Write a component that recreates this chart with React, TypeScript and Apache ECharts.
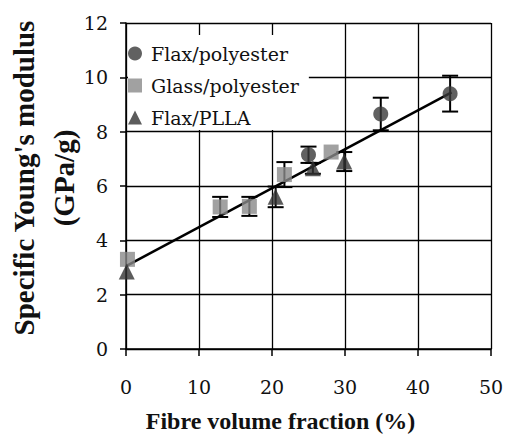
import React, { useEffect, useRef } from "react";
import * as echarts from "echarts";

// Flax/polyester (circles)
const flaxPolyX = [25.0, 34.9, 44.4];
const flaxPolyY = [7.15, 8.65, 9.4];
const flaxPolyErr = [0.3, 0.6, 0.66];

// Glass/polyester (squares)
const glassX = [0.2, 12.9, 16.9, 21.7, 28.1];
const glassY = [3.3, 5.23, 5.25, 6.42, 7.25];
const glassErr = [0, 0.37, 0.35, 0.46, 0];

// Flax/PLLA (triangles)
const pllaX = [0.1, 20.5, 25.6, 29.9];
const pllaY = [2.85, 5.6, 6.65, 6.9];
const pllaErr = [0, 0.38, 0.2, 0.35];

// Linear fit
const fitX = [0, 44.6];
const fitY = [3.05, 9.45];

const seriesNames = ["Flax/polyester", "Glass/polyester", "Flax/PLLA"];
const FONT = "DejaVu Serif";
const BOLDFONT = "Liberation Serif";

const zip = (xs: number[], ys: number[]) => xs.map((x, i) => [x, ys[i]]);
const zip3 = (xs: number[], ys: number[], es: number[]) => xs.map((x, i) => [x, ys[i], es[i]]);

const errorSeries = (name: string, data: number[][]) => ({
  type: "custom",
  name: name + "-err",
  data,
  encode: { x: 0, y: 1 },
  z: 2,
  silent: true,
  renderItem: (params: any, api: any) => {
    const x = api.value(0);
    const y = api.value(1);
    const e = api.value(2);
    if (!e) return { type: "group", children: [] };
    const top = api.coord([x, y + e]);
    const bot = api.coord([x, y - e]);
    const half = 8;
    const st = { stroke: "#000", lineWidth: 2 };
    return {
      type: "group",
      children: [
        { type: "line", shape: { x1: top[0], y1: top[1], x2: bot[0], y2: bot[1] }, style: st },
        { type: "line", shape: { x1: top[0] - half, y1: top[1], x2: top[0] + half, y2: top[1] }, style: st },
        { type: "line", shape: { x1: bot[0] - half, y1: bot[1], x2: bot[0] + half, y2: bot[1] }, style: st },
      ],
    };
  },
});

export default function App() {
  const ref = useRef<HTMLDivElement>(null);
  useEffect(() => {
    document.body.style.margin = "0";
    const chart = echarts.init(ref.current!, null, { renderer: "svg" });
    chart.setOption({
      animation: false,
      backgroundColor: "#fff",
      grid: { left: 126, right: 15, top: 23, bottom: 86, containLabel: false, outerBoundsMode: "none" },
      legend: {
        orient: "vertical",
        left: 128,
        top: 35,
        backgroundColor: "#fff",
        padding: [9, 10, 3, 0],
        itemGap: 13,
        itemWidth: 14,
        itemHeight: 14,
        selectedMode: false,
        data: [
          { name: seriesNames[0], icon: "circle" },
          { name: seriesNames[1], icon: "rect" },
          { name: seriesNames[2], icon: "triangle" },
        ],
        textStyle: { fontFamily: FONT, fontSize: 19, color: "#111", padding: [0, 0, 0, 4] },
      },
      xAxis: {
        type: "value",
        min: 0,
        max: 50,
        interval: 10,
        axisLine: { show: true, onZero: false, lineStyle: { color: "#000", width: 1.5 } },
        axisTick: { show: true, length: 7, lineStyle: { color: "#000", width: 1.5 } },
        axisLabel: { fontFamily: FONT, fontSize: 19, color: "#111", margin: 28 },
        splitLine: { show: true, lineStyle: { color: "#000", width: 1.3 } },
        name: "Fibre volume fraction (%)",
        nameLocation: "middle",
        nameGap: 60,
        nameTextStyle: {
          fontFamily: BOLDFONT,
          fontSize: 24,
          fontWeight: "bold",
          color: "#111",
          padding: [0, 56, 0, 0],
        },
      },
      yAxis: {
        type: "value",
        min: 0,
        max: 12,
        interval: 2,
        axisLine: { show: true, onZero: false, lineStyle: { color: "#000", width: 1.5 } },
        axisTick: { show: true, length: 6, lineStyle: { color: "#000", width: 1.5 } },
        axisLabel: { fontFamily: FONT, fontSize: 19, color: "#111", margin: 18 },
        splitLine: { show: true, lineStyle: { color: "#000", width: 1.3 } },
        name: "Specific Young's modulus\n(GPa/g)",
        nameLocation: "middle",
        nameGap: 42,
        nameRotate: 90,
        nameMoveOverlap: false,
        nameTextStyle: {
          fontFamily: BOLDFONT,
          fontSize: 29,
          fontWeight: "bold",
          color: "#111",
          lineHeight: 40,
          align: "center",
          padding: [0, 0, 0, 16],
        },
      },
      series: [
        {
          type: "line",
          name: "fit",
          data: zip(fitX, fitY),
          symbol: "none",
          lineStyle: { color: "#000", width: 2.5 },
          z: 1,
          silent: true,
        },
        errorSeries(seriesNames[0], zip3(flaxPolyX, flaxPolyY, flaxPolyErr)),
        errorSeries(seriesNames[1], zip3(glassX, glassY, glassErr)),
        errorSeries(seriesNames[2], zip3(pllaX, pllaY, pllaErr)),
        {
          type: "scatter",
          name: seriesNames[1],
          data: zip(glassX, glassY),
          symbol: "rect",
          symbolSize: 15,
          itemStyle: { color: "#8a8a8a" },
          z: 3,
        },
        {
          type: "scatter",
          name: seriesNames[2],
          data: zip(pllaX, pllaY),
          symbol: "triangle",
          symbolSize: 16,
          itemStyle: { color: "#333333" },
          z: 3,
        },
        {
          type: "scatter",
          name: seriesNames[0],
          data: zip(flaxPolyX, flaxPolyY),
          symbol: "circle",
          symbolSize: 15,
          itemStyle: { color: "#3a3a3a" },
          z: 4,
        },
      ],
    });
    return () => chart.dispose();
  }, []);
  return <div ref={ref} style={{ position: "absolute", left: 0, top: 0, width: 506, height: 435 }} />;
}
